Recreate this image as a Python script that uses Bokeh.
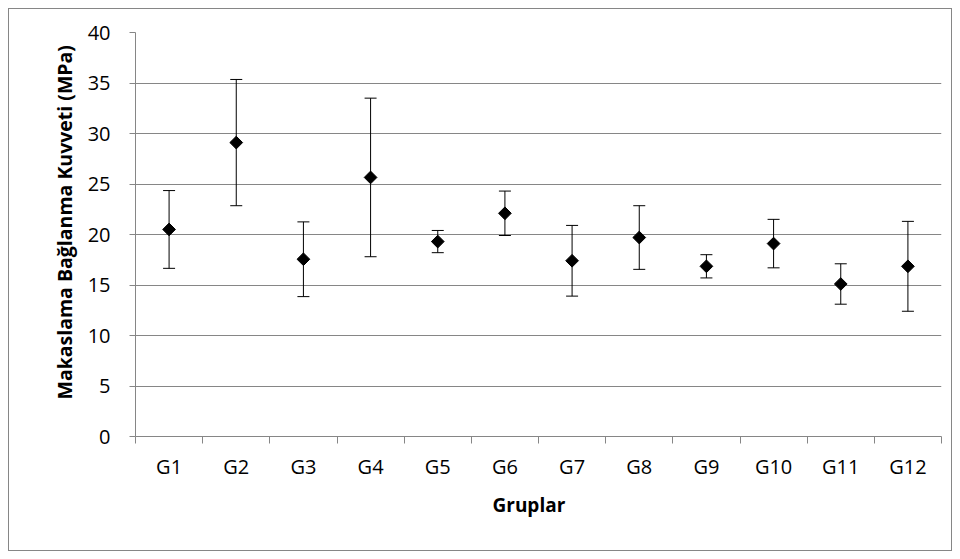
import math
from bokeh.plotting import figure
from bokeh.models import FixedTicker, Whisker, ColumnDataSource, TeeHead, Range1d, Title
from bokeh.embed import file_html
from bokeh.resources import INLINE

groups = ["G1", "G2", "G3", "G4", "G5", "G6", "G7", "G8", "G9", "G10", "G11", "G12"]
means = [20.5, 29.1, 17.55, 25.65, 19.3, 22.1, 17.4, 19.7, 16.85, 19.1, 15.1, 16.85]
sds = [3.85, 6.25, 3.7, 7.85, 1.1, 2.2, 3.5, 3.15, 1.15, 2.4, 2.0, 4.45]
y_ticks = [0, 5, 10, 15, 20, 25, 30, 35, 40]
y_title = "Makaslama Bağlanma Kuvveti (MPa)"
x_title = "Gruplar"

xpos = [i + 0.5 for i in range(len(groups))]
src = ColumnDataSource(dict(
    x=xpos, y=means,
    upper=[m + s for m, s in zip(means, sds)],
    lower=[m - s for m, s in zip(means, sds)],
))

FONT = "Open Sans"
GRID = "#868686"

p = figure(width=944, height=543, output_backend="svg", toolbar_location=None,
           x_range=Range1d(0, len(groups)), y_range=Range1d(0, 40),
           min_border_left=126, min_border_right=12, min_border_top=23, min_border_bottom=116)
p.outline_line_color = None
p.border_fill_color = "white"
p.background_fill_color = "white"
p.styles = {"border": "1px solid #868686", "box-sizing": "border-box", "margin": "8px"}

p.xgrid.grid_line_color = None
p.ygrid.grid_line_color = GRID
p.ygrid.grid_line_width = 1
p.ygrid.ticker = FixedTicker(ticks=y_ticks)

p.yaxis.ticker = FixedTicker(ticks=y_ticks)
p.yaxis.axis_line_color = GRID
p.yaxis.major_tick_line_color = GRID
p.yaxis.major_tick_out = 6
p.yaxis.major_tick_in = 0
p.yaxis.minor_tick_line_color = None
p.yaxis.major_label_text_font = FONT
p.yaxis.major_label_text_font_size = "20px"
p.yaxis.major_label_text_color = "black"
p.yaxis.major_label_standoff = 19

p.xaxis.ticker = FixedTicker(ticks=xpos, minor_ticks=list(range(len(groups) + 1)))
p.xaxis.major_label_overrides = {x: g for x, g in zip(xpos, groups)}
p.xaxis.axis_line_color = GRID
p.xaxis.major_tick_line_color = None
p.xaxis.major_tick_out = 7
p.xaxis.minor_tick_line_color = GRID
p.xaxis.minor_tick_out = 7
p.xaxis.minor_tick_in = 0
p.xaxis.major_label_text_font = FONT
p.xaxis.major_label_text_font_size = "20px"
p.xaxis.major_label_text_color = "black"
p.xaxis.major_label_standoff = 9

# axis titles as side titles (slightly off-centre, like the original)
p.add_layout(Title(text=y_title, align="left", offset=37, standoff=14,
                   text_font=FONT, text_font_style="bold", text_font_size="19.5px",
                   text_color="black"), "left")
p.add_layout(Title(text=x_title, align="left", offset=357, standoff=14,
                   text_font=FONT, text_font_style="bold", text_font_size="19px",
                   text_color="black"), "below")

w = Whisker(source=src, base="x", upper="upper", lower="lower", dimension="height",
            line_color="black", line_width=1,
            upper_head=TeeHead(size=12, line_color="black", line_width=1),
            lower_head=TeeHead(size=12, line_color="black", line_width=1))
p.add_layout(w)

p.scatter("x", "y", source=src, marker="square", angle=math.pi / 4, size=9,
          fill_color="black", line_color="black")

open("out.html", "w").write(file_html(p, INLINE))
